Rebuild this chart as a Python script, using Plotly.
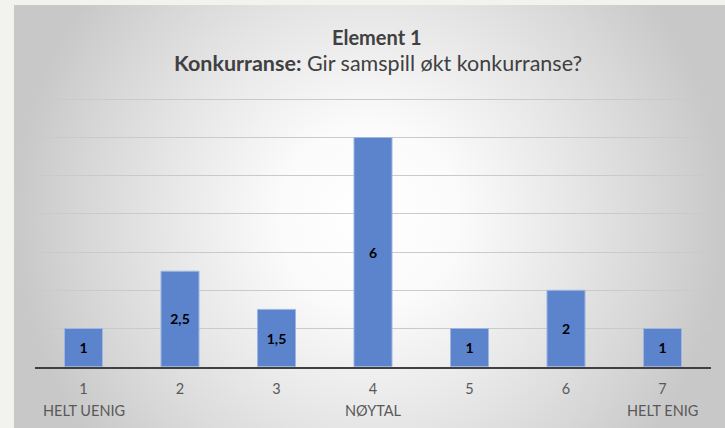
import plotly.graph_objects as go

# ---- data ----
categories = [1, 2, 3, 4, 5, 6, 7]
tick_labels = ["1", "2", "3", "4", "5", "6", "7"]
sub_labels = ["HELT UENIG", "", "", "NØYTAL", "", "", "HELT ENIG"]
values = [1, 2.5, 1.5, 6, 1, 2, 1]
title_line1 = "Element 1"
title_bold = "Konkurranse:"
title_rest = " Gir samspill økt konkurranse?"

W, H = 725, 428
FONT = "Lato, 'Open Sans', sans-serif"

fig = go.Figure()

# radial-gradient panel background (decorative); zero-area spikes stretch the
# gradient's bounding box vertically so the ellipse is taller than the panel
fig.add_trace(go.Scatter(
    x=[14, 370, 370, 370, 725, 725, 370, 370, 370, 14, 14],
    y=[0, 0, -150, 0, 0, 423, 423, 573, 423, 423, 0],
    mode="lines", fill="toself", line=dict(width=0, color="rgba(0,0,0,0)"),
    fillgradient=dict(type="radial",
                      colorscale=[[0, "#ffffff"], [0.25, "#fbfbfb"], [0.55, "#e8e8e8"],
                                  [0.8, "#d7d7d7"], [1, "#c8c8c8"]]),
    hoverinfo="skip", showlegend=False, xaxis="x", yaxis="y",
))

labels = [("%g" % v).replace(".", ",") for v in values]
fig.add_trace(go.Bar(
    x=categories, y=values, text=labels,
    textposition="inside", insidetextanchor="middle",
    textfont=dict(family=FONT, size=14, color="#000000", weight="bold"),
    marker=dict(color="#5b84cc", line=dict(color="#9fb6e2", width=1)),
    xaxis="x2", yaxis="y2", showlegend=False, hoverinfo="skip",
))

x0, x1 = 35.25, 710.75
y_bot = 366.7
px_per_unit = (366.7 - 99.3) / 7
y_max = 7.1
y_top = y_bot - y_max * px_per_unit

for c, s in zip(categories, sub_labels):
    if s:
        fig.add_annotation(x=c, xref="x2", y=1 - 410 / H, yref="paper",
                           text=s, showarrow=False, yanchor="middle",
                           font=dict(family=FONT, size=14.5, color="#595959"))

fig.add_annotation(x=377 / W, xref="paper", y=1 - 37 / H, yref="paper",
                   text="<b>%s</b>" % title_line1, showarrow=False, yanchor="middle",
                   font=dict(family=FONT, size=20, color="#404040"))
fig.add_annotation(x=378 / W, xref="paper", y=1 - 63 / H, yref="paper",
                   text="<b>%s</b>%s" % (title_bold, title_rest), showarrow=False,
                   yanchor="middle",
                   font=dict(family=FONT, size=21.5, color="#404040"))

fig.update_layout(
    width=W, height=H,
    margin=dict(l=0, r=0, t=0, b=0),
    paper_bgcolor="#f2f2ee",
    plot_bgcolor="rgba(0,0,0,0)",
    bargap=0.606,
    xaxis=dict(domain=[0, 1], range=[0, W], visible=False, fixedrange=True),
    yaxis=dict(domain=[0, 1], range=[0, H], visible=False, fixedrange=True),
    xaxis2=dict(domain=[x0 / W, x1 / W], range=[0.5, 7.5], anchor="y2",
                tickmode="array", tickvals=categories, ticktext=tick_labels,
                showline=True, linecolor="#404040", linewidth=2,
                showgrid=False, ticks="", ticklabelstandoff=8,
                tickfont=dict(family=FONT, size=14.5, color="#595959")),
    yaxis2=dict(domain=[1 - y_bot / H, 1 - y_top / H], range=[0, y_max], anchor="x2",
                tickmode="array", tickvals=[1, 2, 3, 4, 5, 6, 7],
                showticklabels=False, showgrid=True,
                gridcolor="#cacaca", gridwidth=1, zeroline=False, ticks=""),
)

fig.write_html(
    "out.html",
    config={"displayModeBar": False},
    post_script="document.body.style.margin='0px';"
                "document.body.style.background='#f2f2ee';"
                "document.body.style.overflow='hidden';",
)
